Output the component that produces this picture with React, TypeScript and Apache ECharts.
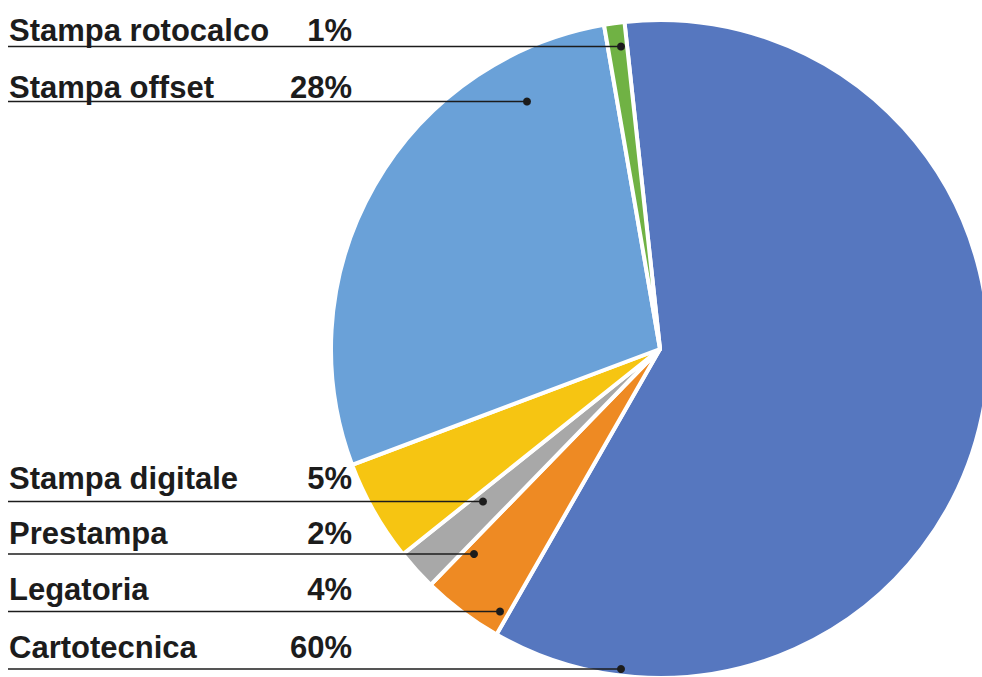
import React, { useEffect, useRef } from 'react';
import * as echarts from 'echarts';

// ---- data ----
const categories = [
  'Cartotecnica',
  'Legatoria',
  'Prestampa',
  'Stampa digitale',
  'Stampa offset',
  'Stampa rotocalco',
];
const shares = [60, 4, 2, 5, 28, 1];
const sliceColors = ['#5677bf', '#ee8a23', '#a8a8a8', '#f6c512', '#6aa1d8', '#70b244'];

// ---- label layout (pixels) ----
const labelCenterY = [647, 589.5, 533, 478, 87.5, 30];
const leaderY = [669, 611.5, 554, 501.5, 101.5, 46.5];
const leaderEndX = [621, 500, 474, 483, 527, 621];
const leaderStartX = 8;

const FONT = '"Liberation Sans", Arial, Helvetica, sans-serif';
const INK = '#1c1c1c';

export default function App() {
  const ref = useRef<HTMLDivElement>(null);

  useEffect(() => {
    document.body.style.margin = '0';
    if (!ref.current) return;
    const chart = echarts.init(ref.current, null, { renderer: 'svg' });

    const textStyle = {
      fontFamily: FONT,
      fontWeight: 'bold' as const,
      fontSize: 31,
      color: INK,
    };

    const leaders: any[] = [];
    leaderEndX.forEach((x, i) => {
      leaders.push({
        type: 'line',
        z: 100,
        silent: true,
        shape: { x1: leaderStartX, y1: leaderY[i], x2: x, y2: leaderY[i] },
        style: { stroke: INK, lineWidth: 1.6 },
      });
      leaders.push({
        type: 'circle',
        z: 101,
        silent: true,
        shape: { cx: x, cy: leaderY[i], r: 4 },
        style: { fill: INK },
      });
    });

    chart.setOption({
      animation: false,
      backgroundColor: '#ffffff',
      graphic: leaders,
      series: [
        {
          type: 'pie',
          center: [660, 349],
          radius: 329,
          startAngle: 96.2,
          clockwise: true,
          avoidLabelOverlap: false,
          silent: true,
          emphasis: { disabled: true },
          itemStyle: { borderColor: '#ffffff', borderWidth: 4 },
          data: categories.map((name, i) => ({
            name,
            value: shares[i],
            itemStyle: { color: sliceColors[i] },
          })),
          label: {
            show: true,
            position: 'outside',
            formatter: (p: any) => `{n|${p.name}}{p|${p.value}%}`,
            rich: {
              n: { ...textStyle, width: 263, align: 'left' },
              p: { ...textStyle, width: 80, align: 'right' },
            },
          },
          labelLine: { show: false },
          labelLayout: (params: any) => {
            const i = params.dataIndex;
            return {
              x: 9,
              y: labelCenterY[i],
              align: 'left',
              verticalAlign: 'middle',
            };
          },
        },
      ],
    });

    return () => chart.dispose();
  }, []);

  return <div ref={ref} style={{ width: 982, height: 677 }} />;
}
